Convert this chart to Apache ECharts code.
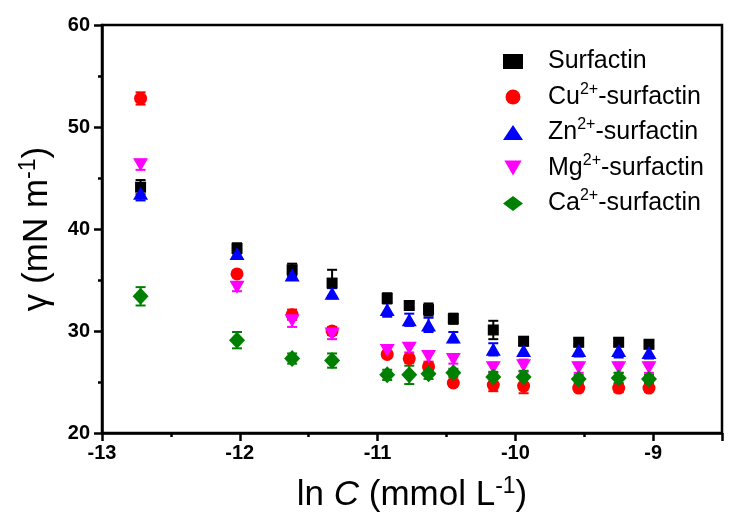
<!DOCTYPE html>
<html>
<head>
<meta charset="utf-8">
<script src="https://cdn.jsdelivr.net/npm/echarts@6/dist/echarts.min.js"></script>
<style>html,body{margin:0;padding:0;background:#fff}#c{width:734px;height:527px}</style>
</head>
<body>
<div id="c"></div>
<script>
var lnC = [-12.72, -12.02, -11.62, -11.33, -10.93, -10.77, -10.63, -10.45, -10.16, -9.94, -9.54, -9.25, -9.03];

var surfactin    = [44.1, 38.1, 36.0, 34.7, 33.2, 32.5, 32.1, 31.2, 30.1, 29.0, 28.9, 28.9, 28.7];
var surfactinErr = [0.7, 0.5, 0.6, 1.3, 0.5, 0.3, 0.6, 0.5, 0.9, 0.4, 0.4, 0.4, 0.4];
var cu           = [52.8, 35.6, 31.6, 30.0, 27.7, 27.3, 26.5, 24.9, 24.7, 24.6, 24.4, 24.4, 24.4];
var cuErr        = [0.6, 0.3, 0.5, 0.4, 0.3, 0.4, 0.4, 0.3, 0.6, 0.7, 0.3, 0.4, 0.3];
var zn           = [43.5, 37.6, 35.5, 33.7, 32.1, 31.1, 30.6, 29.4, 28.2, 28.1, 28.1, 28.1, 27.9];
var znErr        = [0.7, 0.5, 0.5, 0.5, 0.7, 0.6, 0.7, 0.5, 0.6, 0.5, 0.6, 0.7, 0.6];
var mg           = [46.3, 34.3, 31.0, 29.7, 28.1, 28.3, 27.5, 27.2, 26.4, 26.6, 26.4, 26.4, 26.4];
var mgErr        = [0.5, 0.4, 0.6, 0.5, 0.4, 0.4, 0.5, 0.4, 0.5, 0.6, 0.5, 0.5, 0.5];
var ca           = [33.4, 29.1, 27.3, 27.1, 25.7, 25.7, 25.8, 25.9, 25.5, 25.5, 25.3, 25.4, 25.3];
var caErr        = [0.9, 0.8, 0.5, 0.7, 0.5, 0.9, 0.5, 0.4, 0.5, 0.6, 0.4, 0.5, 0.4];

var seriesNames = ['Surfactin', 'Cu2+-surfactin', 'Zn2+-surfactin', 'Mg2+-surfactin', 'Ca2+-surfactin'];
var legendRich = {
  'Surfactin': '{t|Surfactin}',
  'Cu2+-surfactin': '{t|Cu}{s|2+}{t|-surfactin}',
  'Zn2+-surfactin': '{t|Zn}{s|2+}{t|-surfactin}',
  'Mg2+-surfactin': '{t|Mg}{s|2+}{t|-surfactin}',
  'Ca2+-surfactin': '{t|Ca}{s|2+}{t|-surfactin}'
};

var FONT = '"Liberation Sans", Arial, sans-serif';

function errSeries(ys, es, color, z) {
  return {
    type: 'custom',
    silent: true,
    z: z,
    data: lnC.map(function (x, i) { return [x, ys[i] - es[i], ys[i] + es[i]]; }),
    encode: { x: 0, y: [1, 2] },
    renderItem: function (params, api) {
      var lo = api.coord([api.value(0), api.value(1)]);
      var hi = api.coord([api.value(0), api.value(2)]);
      var w = 5;
      var st = { stroke: color, lineWidth: 2 };
      return {
        type: 'group',
        children: [
          { type: 'line', shape: { x1: lo[0], y1: lo[1], x2: hi[0], y2: hi[1] }, style: st },
          { type: 'line', shape: { x1: lo[0] - w, y1: lo[1], x2: lo[0] + w, y2: lo[1] }, style: st },
          { type: 'line', shape: { x1: hi[0] - w, y1: hi[1], x2: hi[0] + w, y2: hi[1] }, style: st }
        ]
      };
    }
  };
}

function scatter(name, ys, color, symbol, size, z) {
  return {
    type: 'scatter',
    name: name,
    z: z,
    symbol: symbol,
    symbolSize: size,
    itemStyle: { color: color, opacity: 1 },
    data: lnC.map(function (x, i) { return [x, ys[i]]; })
  };
}

var invTri = 'path://M0,0L15,0L7.5,13Z';

var chart = echarts.init(document.getElementById('c'));
chart.setOption({
  animation: false,
  grid: { left: 102, right: 12, top: 25, bottom: 94, show: true, borderColor: '#000', borderWidth: 2.5, backgroundColor: 'transparent' },
  legend: {
    orient: 'vertical',
    left: 498,
    top: 44,
    itemGap: 7.5,
    itemWidth: 20,
    itemHeight: 15,
    data: seriesNames,
    formatter: function (n) { return legendRich[n]; },
    textStyle: {
      rich: {
        t: { fontFamily: FONT, fontSize: 25, color: '#000', lineHeight: 27 },
        s: { fontFamily: FONT, fontSize: 16, color: '#000', padding: [0, 0, 15, 0] }
      },
      padding: [0, 0, 0, 20]
    }
  },
  xAxis: {
    type: 'value',
    min: -13, max: -8.5, interval: 1,
    splitLine: { show: false },
    axisLine: { onZero: false, lineStyle: { color: '#000', width: 2.5 } },
    axisTick: { length: 8, lineStyle: { color: '#000', width: 2.5 } },
    minorTick: { show: true, splitNumber: 2, length: 4, lineStyle: { color: '#000', width: 2.5 } },
    axisLabel: {
      margin: 10, color: '#000', fontFamily: FONT, fontSize: 20, fontWeight: 'bold',
      formatter: function (v) { return Math.round(v) === v ? String(v) : ''; }
    },
    name: '{a|ln }{i|C}{a| (mmol L}{s|-1}{a|)}',
    nameLocation: 'middle',
    nameGap: 42,
    nameTextStyle: {
      rich: {
        a: { fontFamily: FONT, fontSize: 35, color: '#000' },
        i: { fontFamily: FONT, fontSize: 35, color: '#000', fontStyle: 'italic' },
        s: { fontFamily: FONT, fontSize: 23, color: '#000', padding: [0, 0, 18, 0] }
      }
    }
  },
  yAxis: {
    type: 'value',
    min: 20, max: 60, interval: 10,
    splitLine: { show: false },
    axisLine: { lineStyle: { color: '#000', width: 2.5 } },
    axisTick: { length: 8, lineStyle: { color: '#000', width: 2.5 } },
    minorTick: { show: true, splitNumber: 2, length: 4, lineStyle: { color: '#000', width: 2.5 } },
    axisLabel: { margin: 12, color: '#000', fontFamily: FONT, fontSize: 20, fontWeight: 'bold' },
    name: '{a|γ (mN m}{s|-1}{a|)}',
    nameLocation: 'middle',
    nameGap: 44,
    nameTextStyle: {
      rich: {
        a: { fontFamily: FONT, fontSize: 35, color: '#000' },
        s: { fontFamily: FONT, fontSize: 23, color: '#000', padding: [0, 0, 18, 0] }
      }
    }
  },
  series: [
    errSeries(surfactin, surfactinErr, '#000000', 2),
    errSeries(cu, cuErr, '#ff0000', 3),
    errSeries(zn, znErr, '#0000ff', 4),
    errSeries(mg, mgErr, '#ff00ff', 5),
    errSeries(ca, caErr, '#008000', 6),
    scatter('Surfactin', surfactin, '#000000', 'rect', 11, 10),
    scatter('Cu2+-surfactin', cu, '#ff0000', 'circle', 13, 11),
    scatter('Zn2+-surfactin', zn, '#0000ff', 'triangle', [15, 13], 12),
    scatter('Mg2+-surfactin', mg, '#ff00ff', invTri, [15, 13], 13),
    scatter('Ca2+-surfactin', ca, '#008000', 'diamond', [16, 17], 14)
  ]
});
</script>
</body>
</html>
